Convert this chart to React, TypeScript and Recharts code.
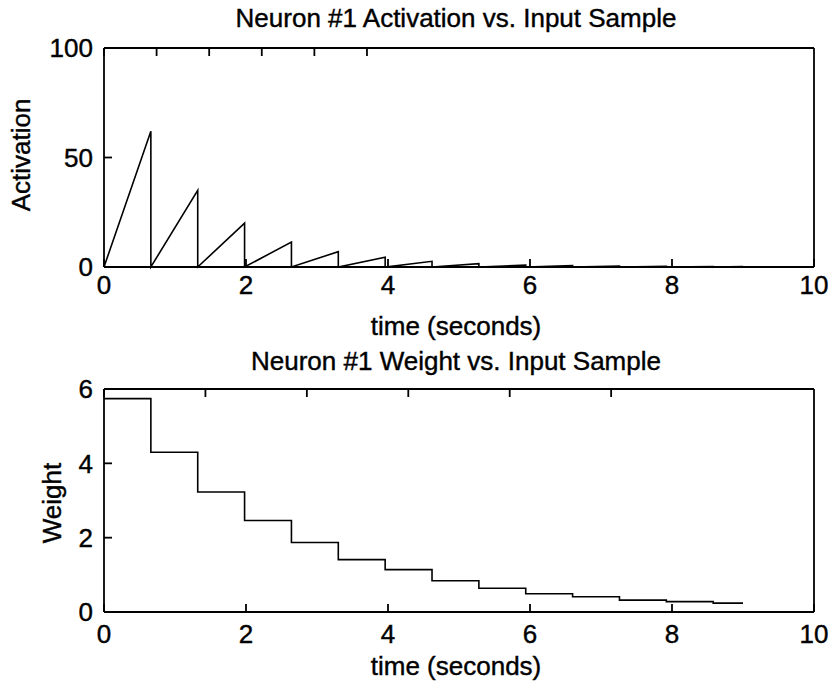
import React from 'react'
import { Line, LineChart, XAxis, YAxis } from 'recharts'

// sample times where each input sample starts (seconds)
const stepTimes = [0, 0.66, 1.32, 1.98, 2.64, 3.3, 3.96, 4.62, 5.28, 5.94, 6.6, 7.26, 7.92, 8.58]
const endTime = 9.0
// activation reached at the end of each sample
const activationPeaks = [62, 35, 20, 11.4, 7, 4.5, 2.6, 1.5, 0.9, 0.6, 0.4, 0.3, 0.2, 0.15]
// weight held during each sample
const weights = [5.74, 4.3, 3.23, 2.46, 1.87, 1.41, 1.14, 0.84, 0.64, 0.49, 0.41, 0.32, 0.28, 0.24]

const timeTicks = [0, 2, 4, 6, 8, 10]
const activationTicks = [0, 50, 100]
const weightTicks = [0, 2, 4, 6]

const activationData = stepTimes.flatMap((t, i) => {
  const next = i + 1 < stepTimes.length ? stepTimes[i + 1] : endTime
  return [
    { t, activation: 0 },
    { t: next, activation: activationPeaks[i] },
  ]
})

const weightData = [
  ...stepTimes.map((t, i) => ({ t, weight: weights[i] })),
  { t: endTime, weight: weights[weights.length - 1] },
]

const FONT = '"Liberation Sans", Arial, Helvetica, sans-serif'
const TICK = 8
const SW = 1.8

const textStyle: React.SVGProps<SVGTextElement> = {
  fontFamily: FONT,
  fontSize: 26,
  fill: '#000',
  stroke: '#000',
  strokeWidth: 0.4,
}

const bottomTick = (labelDy: number) => (props: any) => {
  const { x, y, payload } = props
  return (
    <g>
      <line x1={x} x2={x} y1={y} y2={y - TICK} stroke="#000" strokeWidth={SW} />
      <text {...textStyle} x={x} y={y + labelDy} textAnchor="middle">
        {payload.value}
      </text>
    </g>
  )
}

const topTick = (props: any) => {
  const { x, y } = props
  return <line x1={x} x2={x} y1={y} y2={y + TICK} stroke="#000" strokeWidth={SW} />
}

const leftTick = (props: any) => {
  const { x, y, payload } = props
  return (
    <g>
      <line x1={x} x2={x + TICK} y1={y} y2={y} stroke="#000" strokeWidth={SW} />
      <text {...textStyle} x={x - 11} y={y} dy="0.36em" textAnchor="end">
        {payload.value}
      </text>
    </g>
  )
}

const rightTick = (props: any) => {
  const { x, y } = props
  return <line x1={x} x2={x - TICK} y1={y} y2={y} stroke="#000" strokeWidth={SW} />
}

const axisLine = { stroke: '#000', strokeWidth: SW }

function Frame({ yTicks, labelDy }: { yTicks: number[]; labelDy: number }) {
  const yMax = yTicks[yTicks.length - 1]
  return (
    <>
      <XAxis
        xAxisId="b"
        dataKey="t"
        type="number"
        domain={[0, 10]}
        ticks={timeTicks}
        height={30}
        tickSize={0}
        tickMargin={0}
        tickLine={false}
        axisLine={axisLine}
        tick={bottomTick(labelDy)}
        interval={0}
      />
      <XAxis
        xAxisId="top"
        orientation="top"
        type="number"
        domain={[0, 10]}
        ticks={timeTicks}
        height={1}
        tickSize={0}
        tickMargin={0}
        tickLine={false}
        axisLine={axisLine}
        tick={topTick}
        interval={0}
      />
      <YAxis
        yAxisId="l"
        type="number"
        domain={[0, yMax]}
        ticks={yTicks}
        width={60}
        tickSize={0}
        tickMargin={0}
        tickLine={false}
        axisLine={axisLine}
        tick={leftTick}
        interval={0}
      />
      <YAxis
        yAxisId="r"
        orientation="right"
        type="number"
        domain={[0, yMax]}
        ticks={yTicks}
        width={1}
        tickSize={0}
        tickMargin={0}
        tickLine={false}
        axisLine={axisLine}
        tick={rightTick}
        interval={0}
      />
    </>
  )
}

export default function App() {
  return (
    <div style={{ position: 'absolute', left: 0, top: 0, width: 831, height: 686, background: '#fff' }}>
      <div style={{ position: 'absolute', left: 0, top: 0 }}>
        <LineChart width={831} height={300} data={activationData} margin={{ top: 47, right: 16, bottom: 3, left: 44 }}>
          {Frame({ yTicks: activationTicks, labelDy: 27 })}
          <Line
            xAxisId="b"
            yAxisId="l"
            type="linear"
            dataKey="activation"
            stroke="#000"
            strokeWidth={1.6}
            dot={false}
            isAnimationActive={false}
          />
        </LineChart>
      </div>
      <div style={{ position: 'absolute', left: 0, top: 330 }}>
        <LineChart width={831} height={356} data={weightData} margin={{ top: 58, right: 16, bottom: 44, left: 44 }}>
          {Frame({ yTicks: weightTicks, labelDy: 31 })}
          <Line
            xAxisId="b"
            yAxisId="l"
            type="stepAfter"
            dataKey="weight"
            stroke="#000"
            strokeWidth={1.6}
            dot={false}
            isAnimationActive={false}
          />
        </LineChart>
      </div>
      <svg width={831} height={686} style={{ position: 'absolute', left: 0, top: 0, pointerEvents: 'none' }}>
        <text {...textStyle} x={456} y={27} textAnchor="middle">
          Neuron #1 Activation vs. Input Sample
        </text>
        <text {...textStyle} x={456} y={335} textAnchor="middle">
          time (seconds)
        </text>
        <text {...textStyle} x={456} y={370} textAnchor="middle">
          Neuron #1 Weight vs. Input Sample
        </text>
        <text {...textStyle} x={456} y={675} textAnchor="middle">
          time (seconds)
        </text>
        <text {...textStyle} transform="translate(30,155) rotate(-90)" textAnchor="middle">
          Activation
        </text>
        <text {...textStyle} transform="translate(61,503) rotate(-90)" textAnchor="middle">
          Weight
        </text>
      </svg>
    </div>
  )
}
